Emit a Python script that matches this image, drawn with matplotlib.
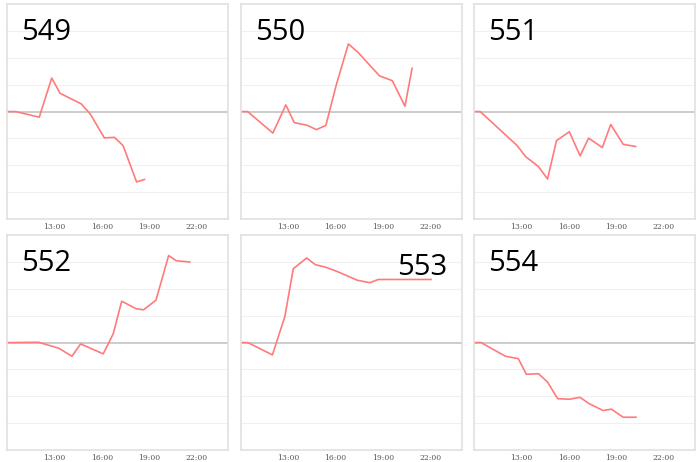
import matplotlib

matplotlib.use("Agg")
import matplotlib.pyplot as plt  # noqa: E402

# horas del día (decimal) y valores de cada serie
t549 = [10.0, 10.55, 12.04, 12.83, 13.36, 14.69, 15.27, 16.16, 16.8, 17.35, 18.2, 18.7]
v549 = [0, 0, -0.21, 1.25, 0.68, 0.29, -0.09, -0.98, -0.96, -1.27, -2.62, -2.53]

t550 = [10.0, 10.43, 12.03, 12.85, 13.38, 14.2, 14.78, 15.38, 16.06, 16.81, 17.41,
        18.78, 19.59, 20.39, 20.84]
v550 = [0, 0, -0.8, 0.25, -0.41, -0.51, -0.67, -0.52, 1.03, 2.52, 2.21, 1.33, 1.15,
        0.2, 1.61]

t551 = [10.0, 10.4, 12.74, 13.28, 14.09, 14.66, 15.23, 16.04, 16.72, 17.26, 18.13,
        18.66, 19.45, 20.23]
v551 = [0, 0, -1.27, -1.68, -2.05, -2.51, -1.08, -0.75, -1.65, -0.99, -1.34, -0.48,
        -1.22, -1.3]

t552 = [10.0, 12.0, 13.28, 14.11, 14.66, 16.09, 16.72, 17.26, 18.17, 18.64, 19.43,
        20.23, 20.7, 21.57]
v552 = [0, 0.01, -0.21, -0.51, -0.05, -0.42, 0.32, 1.54, 1.26, 1.22, 1.58, 3.24,
        3.05, 3.0]

t553 = [10.0, 10.45, 12.0, 12.79, 13.32, 14.17, 14.72, 15.36, 16.09, 17.38, 18.17,
        18.7, 22.04]
v553 = [0, 0, -0.46, 0.97, 2.75, 3.15, 2.9, 2.81, 2.65, 2.32, 2.23, 2.35, 2.35]

t554 = [10.0, 10.45, 12.0, 12.81, 13.32, 14.09, 14.66, 15.3, 16.04, 16.72, 17.28,
        18.17, 18.7, 19.45, 20.26]
v554 = [0, 0, -0.51, -0.6, -1.18, -1.16, -1.47, -2.09, -2.11, -2.04, -2.27, -2.53,
        -2.48, -2.78, -2.78]

labels = ["549", "550", "551", "552", "553", "554"]
series = [(t549, v549), (t550, v550), (t551, v551),
          (t552, v552), (t553, v553), (t554, v554)]
xticks = [13, 16, 19, 22]
xtick_labels = ["13:00", "16:00", "19:00", "22:00"]

fig = plt.figure(figsize=(7, 4.62), dpi=100)
lefts = [0.010, 0.344, 0.677]
bottoms = [0.526, 0.026]
w, h = 0.316, 0.465

for i, (lab, (t, v)) in enumerate(zip(labels, series)):
    ax = fig.add_axes([lefts[i % 3], bottoms[i // 3], w, h])
    ax.set_xlim(10, 24)
    ax.set_ylim(-4, 4)
    for yy in range(-3, 4):
        if yy != 0:
            ax.axhline(yy, color="#f0f0f0", lw=0.8, zorder=0)
    ax.axhline(0, color="#c4c4c4", lw=1.2, zorder=1)
    ax.plot(t, v, color="#ff7b7b", lw=1.2, zorder=2)
    ax.set_yticks([])
    ax.set_xticks(xticks)
    ax.set_xticklabels(xtick_labels, family="DejaVu Serif", fontsize=5.5,
                       color="#555555")
    ax.tick_params(axis="x", length=0, pad=3)
    for s in ax.spines.values():
        s.set_color("#e0e0e0")
        s.set_linewidth(1.2)
    if lab == "553":
        ax.text(0.935, 0.915, lab, transform=ax.transAxes, ha="right", va="top",
                fontsize=21, color="black", family="Open Sans")
    else:
        ax.text(0.065, 0.935, lab, transform=ax.transAxes, ha="left", va="top",
                fontsize=21, color="black", family="Open Sans")

fig.savefig("out.png", dpi=100)
plt.close(fig)
